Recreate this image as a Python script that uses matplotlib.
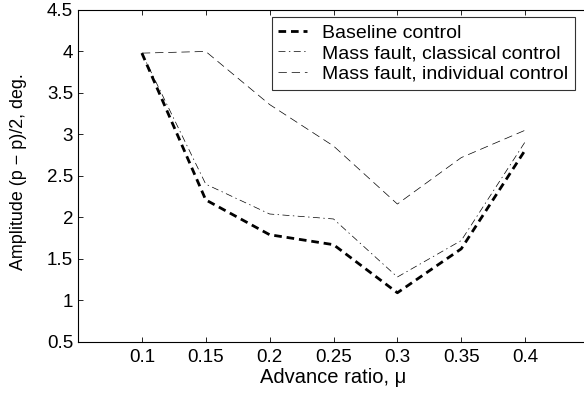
import matplotlib
matplotlib.use("Agg")
import matplotlib.pyplot as plt

mu = [0.1, 0.15, 0.2, 0.25, 0.3, 0.35, 0.4]
baseline = [3.98, 2.21, 1.79, 1.67, 1.09, 1.62, 2.81]
classical = [3.98, 2.40, 2.04, 1.98, 1.28, 1.72, 2.91]
individual = [3.98, 4.00, 3.36, 2.86, 2.16, 2.72, 3.05]
labels = ["Baseline control", "Mass fault, classical control", "Mass fault, individual control"]
xticks = [0.1, 0.15, 0.2, 0.25, 0.3, 0.35, 0.4]
yticks = [0.5, 1, 1.5, 2, 2.5, 3, 3.5, 4, 4.5]

FS = 13.5
plt.rcParams['font.family'] = ['Liberation Sans', 'DejaVu Sans']
plt.rcParams['font.size'] = FS
plt.rcParams['lines.scale_dashes'] = False

fig = plt.figure(figsize=(5.84, 3.94), dpi=100)
L, R, T, B = 78, 589, 10, 341.7
W, H = R - L, B - T
ax = fig.add_axes([L/584, (394-B)/394, W/584, H/394])

ax.plot(mu, baseline, color='black', lw=2.0, dashes=(5.5, 3.5), label=labels[0])
ax.plot(mu, classical, color='black', lw=0.5, dashes=(5, 2.5, 1, 2.5), label=labels[1])
ax.plot(mu, individual, color='black', lw=0.5, dashes=(6, 3.5), label=labels[2])

ax.set_xlim(0.05, 0.45)
ax.set_ylim(0.5, 4.5)
ax.set_xticks(xticks)
ax.set_xticklabels([f"{t:g}" for t in xticks])
ax.set_yticks(yticks)
ax.set_yticklabels([f"{t:g}" for t in yticks])
ax.tick_params(direction='in', top=True, right=True, length=3.5, width=0.6, labelsize=FS)
ax.tick_params(axis='x', pad=5.5)
ax.tick_params(axis='y', pad=3.6)
for s in ax.spines.values():
    s.set_linewidth(0.8)

ax.set_xlabel("Advance ratio, \u03bc", fontsize=14.5, labelpad=1)
ax.set_ylabel("Amplitude (p \u2212 p)/2, deg.", fontsize=12.9)
ax.yaxis.set_label_coords((27 - L) / W, (B - 172) / H)

# legend box: x 271.7..575, y 17.3..88.3 (pixels)
bx = (575 - L) / W
by = (B - 17.3) / H
leg = ax.legend(loc='upper right', bbox_to_anchor=(bx, by), fontsize=14,
                frameon=True, fancybox=False, handlelength=1.5, borderpad=0.35,
                labelspacing=0.15, handletextpad=0.75, borderaxespad=0)
leg.get_frame().set_edgecolor('black')
leg.get_frame().set_linewidth(0.8)

fig.savefig("out.png", dpi=100)
